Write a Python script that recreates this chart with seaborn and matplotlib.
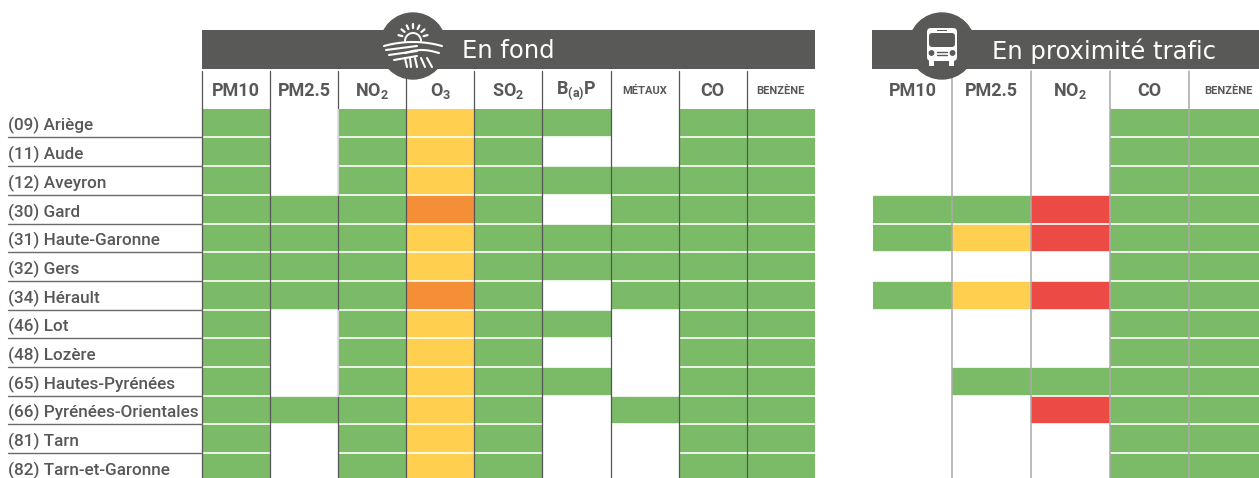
import numpy as np
import matplotlib
matplotlib.use('Agg')
import matplotlib.pyplot as plt
from matplotlib.colors import ListedColormap
from matplotlib.patches import Circle, FancyBboxPatch, Rectangle
import seaborn as sns

# 0 = pas de mesure, 1 = vert, 2 = jaune, 3 = orange, 4 = rouge
departements = ['(09) Ariège', '(11) Aude', '(12) Aveyron', '(30) Gard', '(31) Haute-Garonne', '(32) Gers',
                '(34) Hérault', '(46) Lot', '(48) Lozère', '(65) Hautes-Pyrénées', '(66) Pyrénées-Orientales',
                '(81) Tarn', '(82) Tarn-et-Garonne']

fondLabels = ['PM10', 'PM2.5', 'NO$_2$', 'O$_3$', 'SO$_2$', 'B$_{(a)}$P', 'MÉTAUX', 'CO', 'BENZÈNE']
fondValues = [[1, 0, 1, 2, 1, 1, 0, 1, 1],
              [1, 0, 1, 2, 1, 0, 0, 1, 1],
              [1, 0, 1, 2, 1, 1, 1, 1, 1],
              [1, 1, 1, 3, 1, 0, 1, 1, 1],
              [1, 1, 1, 2, 1, 1, 1, 1, 1],
              [1, 1, 1, 2, 1, 1, 1, 1, 1],
              [1, 1, 1, 3, 1, 0, 1, 1, 1],
              [1, 0, 1, 2, 1, 1, 0, 1, 1],
              [1, 0, 1, 2, 1, 0, 0, 1, 1],
              [1, 0, 1, 2, 1, 1, 0, 1, 1],
              [1, 1, 1, 2, 1, 0, 1, 1, 1],
              [1, 0, 1, 2, 1, 0, 0, 1, 1],
              [1, 0, 1, 2, 1, 0, 0, 1, 1]]

trafficLabels = ['PM10', 'PM2.5', 'NO$_2$', 'CO', 'BENZÈNE']
trafficValues = [[0, 0, 0, 1, 1],
                 [0, 0, 0, 1, 1],
                 [0, 0, 0, 1, 1],
                 [1, 1, 4, 1, 1],
                 [1, 2, 4, 1, 1],
                 [0, 0, 0, 1, 1],
                 [1, 2, 4, 1, 1],
                 [0, 0, 0, 1, 1],
                 [0, 0, 0, 1, 1],
                 [0, 1, 1, 1, 1],
                 [0, 0, 4, 1, 1],
                 [0, 0, 0, 1, 1],
                 [0, 0, 0, 1, 1]]

WIDTH, HEIGHT = 1259, 478
ROW_H = 28.7
TOP = 108.7
DARK = '#595957'
TEXT = '#58585a'
levels = ListedColormap(['#ffffff', '#7bbb68', '#ffd050', '#f48e37', '#eb4a45'])

sns.set_theme(style='white')
plt.rcParams['font.family'] = ['Roboto', 'DejaVu Sans']
plt.rcParams['mathtext.fontset'] = 'custom'
plt.rcParams['mathtext.rm'] = 'Roboto:bold'
plt.rcParams['mathtext.default'] = 'rm'


def px_axes(fig, x0, x1, y0, y1):
    return fig.add_axes([x0 / WIDTH, 1 - y1 / HEIGHT, (x1 - x0) / WIDTH, (y1 - y0) / HEIGHT])


def draw_panel(fig, values, labels, x0, x1, colWidth):
    ax = px_axes(fig, x0, x1, TOP, HEIGHT)
    sns.heatmap(np.array(values), ax=ax, cmap=levels, vmin=-0.5, vmax=4.5, cbar=False, square=False,
                xticklabels=labels, yticklabels=False)
    ax.set_xlim(0, (x1 - x0) / colWidth)
    ax.set_ylim((HEIGHT - TOP) / ROW_H, 0)
    ax.xaxis.tick_top()
    ax.tick_params(axis='x', length=0, pad=13, rotation=0)
    for tick in ax.get_xticklabels():
        small = 'É' in tick.get_text() or 'È' in tick.get_text()
        tick.set_fontsize(8 if small else 13)
        tick.set_fontweight('bold')
        tick.set_color(TEXT)
        tick.set_va('center')
    ax.hlines(np.arange(1, 13), 0, len(labels), color='white', lw=1.2)
    for spine in ax.spines.values():
        spine.set_visible(False)
    return ax


def draw_sun(ov, cx):
    ov.add_patch(Circle((cx, 46), 33, color=DARK, zorder=3))
    t = np.linspace(np.pi, 2 * np.pi, 30)
    ov.plot(cx + 8 * np.cos(t), 41 + 8 * np.sin(t), color='white', lw=1.4, zorder=4)
    for a in np.radians([-165, -140, -115, -90, -65, -40, -15]):
        ov.plot([cx + 11 * np.cos(a), cx + 15 * np.cos(a)], [39 + 11 * np.sin(a), 39 + 15 * np.sin(a)],
                color='white', lw=1.6, zorder=4)
    xs = np.linspace(-29, 29, 40)
    ov.plot(cx + xs, 46 - 4 * (1 - (xs / 29) ** 2), color='white', lw=1.5, zorder=4)
    for off, span in zip([50, 55, 60], [27, 24, 19]):
        xs = np.linspace(-span, 4, 20)
        ov.plot(cx + xs, off - 4 * (xs + span) / (span + 4), color='white', lw=1.5, zorder=4)
    xs = np.linspace(-8, 26, 20)
    ov.plot(cx + xs, 53 - 3 * np.sin((xs + 8) / 34 * np.pi), color='white', lw=1.5, zorder=4)
    for x0, x1 in zip([-8, -3, 2, 8, 14], [-6, -2, 4, 12, 19]):
        ov.plot([cx + x0, cx + x1], [58, 67], color='white', lw=1.5, zorder=4)


def draw_bus(ov, cx):
    ov.add_patch(Circle((cx, 46), 33, color=DARK, zorder=3))
    ov.add_patch(FancyBboxPatch((cx - 15, 28), 30, 33, boxstyle='round,pad=0,rounding_size=4', fc='white', ec='none', zorder=4))
    ov.add_patch(FancyBboxPatch((cx - 13, 33), 26, 14, boxstyle='round,pad=0,rounding_size=3', fc=DARK, ec='none', zorder=5))
    ov.add_patch(Rectangle((cx - 5, 29.5), 10, 1.6, fc=DARK, ec='none', zorder=5))
    for side in [-1, 1]:
        ov.add_patch(Circle((cx + side * 10.5, 53), 2.2, color=DARK, zorder=5))
        ov.add_patch(Rectangle((cx + side * 10 - 2.5, 60), 5, 6, fc='white', ec='none', zorder=4))
    ov.plot([cx - 5, cx + 5], [52, 52], color=DARK, lw=1, zorder=5)
    ov.plot([cx - 5, cx + 5], [54.5, 54.5], color=DARK, lw=1, zorder=5)


fig = plt.figure(figsize=(WIDTH / 100, HEIGHT / 100), dpi=100)
draw_panel(fig, fondValues, fondLabels, 202, 815, 68.1)
draw_panel(fig, trafficValues, trafficLabels, 873, 1259, 79)

# couche en pixels pour les bandeaux, les filets et les noms
ov = px_axes(fig, 0, WIDTH, 0, HEIGHT)
ov.set_xlim(0, WIDTH)
ov.set_ylim(HEIGHT, 0)
ov.axis('off')
ov.patch.set_alpha(0)

ov.add_patch(Rectangle((202, 30), 613, 39, fc=DARK, ec='none', zorder=2))
ov.add_patch(Rectangle((872, 30), 387, 39, fc=DARK, ec='none', zorder=2))
draw_sun(ov, 413)
draw_bus(ov, 942)
ov.text(462, 51, 'En fond', color='white', fontsize=17.5, family='DejaVu Sans', va='center', zorder=4)
ov.text(992, 51, 'En proximité trafic', color='white', fontsize=17.5, family='DejaVu Sans', va='center', zorder=4)

for x in 202 + 68.1 * np.arange(0, 9):
    ov.plot([x, x], [71, HEIGHT], color='#555555', lw=0.9, zorder=1)
for x in [952, 1031, 1110, 1189]:
    ov.plot([x, x], [71, HEIGHT], color='#aaaaaa', lw=1.1, zorder=1)
# filet plus clair le long des cases vides de PM2.5
for y0, y1 in [(TOP, TOP + 3 * ROW_H), (TOP + 7 * ROW_H, TOP + 10 * ROW_H)]:
    ov.plot([338.2, 338.2], [y0, y1], color='#d0d0d0', lw=1, zorder=1.5)

for i, name in enumerate(departements):
    ov.text(8, TOP + (i + 0.6) * ROW_H, name, fontsize=12.3, fontweight='medium', color=TEXT, va='center', zorder=2)
    ov.plot([8, 202], [TOP + (i + 1) * ROW_H] * 2, color='#6a6a6a', lw=1, zorder=1)

fig.savefig('out.png', dpi=100)
